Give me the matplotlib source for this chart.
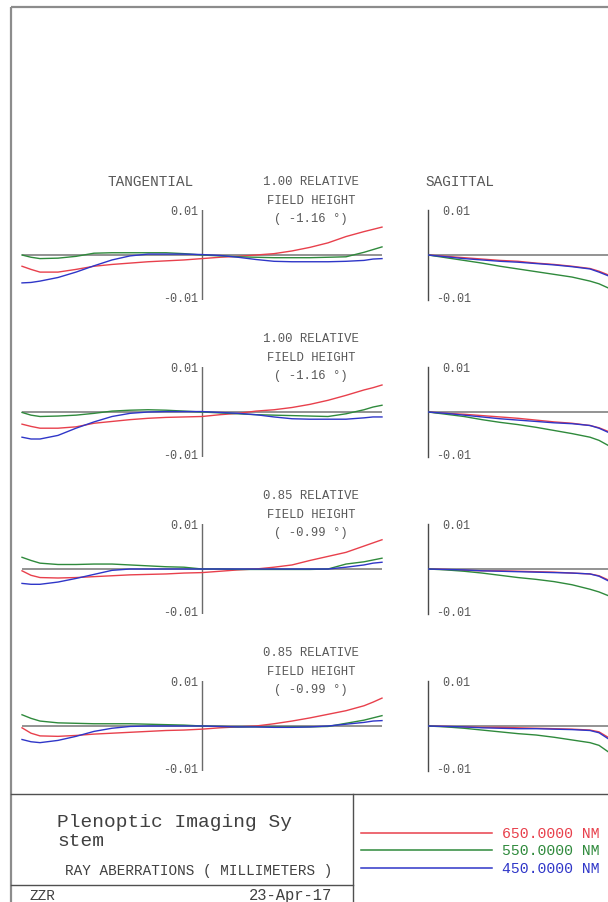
import numpy as np
import matplotlib
matplotlib.use("Agg")
import matplotlib.pyplot as plt

# ---------------- data ----------------
PUPIL_T = [-1.0, -0.95, -0.9, -0.8, -0.7, -0.6, -0.5, -0.4, -0.3, -0.2, -0.1, 0.0,
           0.1, 0.2, 0.3, 0.4, 0.5, 0.6, 0.7, 0.8, 0.9, 0.95, 1.0]
PUPIL_S = [0.0, 0.1, 0.2, 0.3, 0.4, 0.5, 0.6, 0.7, 0.8, 0.9, 0.95, 1.0]

FIELD_REL = ["1.00", "1.00", "0.85", "0.85"]
FIELD_ANG = ["-1.16", "-1.16", "-0.99", "-0.99"]
WAVELENGTHS = ["650.0000 NM", "550.0000 NM", "450.0000 NM"]
WAVE_COLORS = ["#e8404c", "#2f8a3c", "#2f36c8"]

# panel 1 (1.00 field)
tan_red_1 = [-0.0025, -0.0032, -0.0038, -0.0038, -0.0032, -0.0025, -0.0021, -0.0018, -0.0015, -0.0013, -0.0011, -0.0008,
             -0.0005, -0.0003, 0.0000, 0.0003, 0.0009, 0.0017, 0.0027, 0.0041, 0.0052, 0.0057, 0.0062]
tan_grn_1 = [0.0000, -0.0005, -0.0008, -0.0007, -0.0003, 0.0004, 0.0005, 0.0005, 0.0005, 0.0005, 0.0003, 0.0000,
             -0.0002, -0.0004, -0.0005, -0.0006, -0.0006, -0.0006, -0.0005, -0.0004, 0.0006, 0.0012, 0.0018]
tan_blu_1 = [-0.0062, -0.0061, -0.0058, -0.0050, -0.0038, -0.0024, -0.0011, -0.0002, 0.0002, 0.0002, 0.0002, 0.0001,
             -0.0001, -0.0005, -0.0010, -0.0014, -0.0015, -0.0015, -0.0015, -0.0014, -0.0012, -0.0009, -0.0008]
sag_red_1 = [0.0, -0.0003, -0.0006, -0.0009, -0.0012, -0.0014, -0.0018, -0.0021, -0.0025, -0.0030, -0.0036, -0.0044]
sag_grn_1 = [0.0, -0.0006, -0.0012, -0.0018, -0.0025, -0.0031, -0.0037, -0.0043, -0.0049, -0.0058, -0.0064, -0.0073]
sag_blu_1 = [0.0, -0.0004, -0.0008, -0.0011, -0.0014, -0.0016, -0.0019, -0.0022, -0.0026, -0.0031, -0.0038, -0.0046]

# panel 2 (1.00 field)
tan_red_2 = [-0.0027, -0.0032, -0.0036, -0.0036, -0.0033, -0.0025, -0.0021, -0.0017, -0.0014, -0.0012, -0.0011, -0.0010,
             -0.0006, -0.0003, 0.0002, 0.0005, 0.0010, 0.0017, 0.0026, 0.0037, 0.0049, 0.0054, 0.0060]
tan_grn_2 = [-0.0001, -0.0007, -0.0010, -0.0009, -0.0007, -0.0003, 0.0002, 0.0004, 0.0005, 0.0004, 0.0002, 0.0000,
             -0.0002, -0.0004, -0.0006, -0.0007, -0.0008, -0.0009, -0.0010, -0.0004, 0.0005, 0.0011, 0.0015]
tan_blu_2 = [-0.0056, -0.0060, -0.0060, -0.0052, -0.0036, -0.0022, -0.0010, -0.0003, 0.0000, 0.0001, 0.0001, 0.0001,
             -0.0001, -0.0003, -0.0006, -0.0011, -0.0015, -0.0016, -0.0016, -0.0016, -0.0013, -0.0011, -0.0011]
sag_red_2 = [0.0, -0.0003, -0.0005, -0.0008, -0.0011, -0.0014, -0.0018, -0.0022, -0.0025, -0.0030, -0.0035, -0.0043]
sag_grn_2 = [0.0, -0.0005, -0.0010, -0.0017, -0.0023, -0.0028, -0.0034, -0.0041, -0.0048, -0.0056, -0.0063, -0.0074]
sag_blu_2 = [0.0, -0.0003, -0.0007, -0.0011, -0.0015, -0.0018, -0.0021, -0.0024, -0.0026, -0.0030, -0.0036, -0.0045]

# panel 3 (0.85 field)
tan_red_3 = [-0.0004, -0.0014, -0.0019, -0.0020, -0.0019, -0.0017, -0.0015, -0.0013, -0.0012, -0.0011, -0.0009, -0.0008,
             -0.0005, -0.0002, 0.0000, 0.0004, 0.0009, 0.0019, 0.0028, 0.0037, 0.0051, 0.0058, 0.0065]
tan_grn_3 = [0.0026, 0.0019, 0.0013, 0.0010, 0.0010, 0.0011, 0.0011, 0.0009, 0.0007, 0.0005, 0.0004, 0.0000,
             0.0000, -0.0001, -0.0001, -0.0001, -0.0001, -0.0001, 0.0000, 0.0011, 0.0016, 0.0020, 0.0024]
tan_blu_3 = [-0.0032, -0.0034, -0.0034, -0.0029, -0.0021, -0.0012, -0.0003, 0.0000, 0.0000, 0.0000, 0.0000, 0.0000,
             0.0000, 0.0000, 0.0000, 0.0000, 0.0000, 0.0000, 0.0000, 0.0004, 0.0009, 0.0013, 0.0015]
sag_red_3 = [0.0, -0.0001, -0.0003, -0.0004, -0.0004, -0.0005, -0.0006, -0.0007, -0.0009, -0.0011, -0.0015, -0.0024]
sag_grn_3 = [0.0, -0.0002, -0.0005, -0.0009, -0.0014, -0.0019, -0.0023, -0.0028, -0.0035, -0.0045, -0.0051, -0.0059]
sag_blu_3 = [0.0, -0.0001, -0.0002, -0.0004, -0.0005, -0.0006, -0.0007, -0.0008, -0.0009, -0.0011, -0.0016, -0.0026]

# panel 4 (0.85 field)
tan_red_4 = [-0.0004, -0.0016, -0.0022, -0.0023, -0.0021, -0.0018, -0.0016, -0.0014, -0.0012, -0.0010, -0.0009, -0.0007,
             -0.0004, -0.0002, 0.0000, 0.0005, 0.0011, 0.0018, 0.0026, 0.0034, 0.0045, 0.0053, 0.0062]
tan_grn_4 = [0.0025, 0.0017, 0.0011, 0.0007, 0.0006, 0.0005, 0.0005, 0.0005, 0.0004, 0.0003, 0.0002, 0.0000,
             -0.0001, -0.0002, -0.0002, -0.0002, -0.0002, -0.0002, -0.0001, 0.0006, 0.0013, 0.0018, 0.0023]
tan_blu_4 = [-0.0030, -0.0035, -0.0037, -0.0032, -0.0023, -0.0012, -0.0005, -0.0001, 0.0000, 0.0000, 0.0000, 0.0000,
             -0.0001, -0.0002, -0.0002, -0.0003, -0.0003, -0.0002, 0.0000, 0.0004, 0.0008, 0.0011, 0.0012]
sag_red_4 = [0.0, -0.0001, -0.0002, -0.0003, -0.0003, -0.0004, -0.0005, -0.0006, -0.0007, -0.0009, -0.0013, -0.0025]
sag_grn_4 = [0.0, -0.0002, -0.0005, -0.0009, -0.0013, -0.0017, -0.0020, -0.0025, -0.0031, -0.0037, -0.0043, -0.0057]
sag_blu_4 = [0.0, -0.0001, -0.0002, -0.0004, -0.0005, -0.0006, -0.0006, -0.0007, -0.0008, -0.0010, -0.0015, -0.0028]

TAN = [[tan_red_1, tan_grn_1, tan_blu_1], [tan_red_2, tan_grn_2, tan_blu_2],
       [tan_red_3, tan_grn_3, tan_blu_3], [tan_red_4, tan_grn_4, tan_blu_4]]
SAG = [[sag_red_1, sag_grn_1, sag_blu_1], [sag_red_2, sag_grn_2, sag_blu_2],
       [sag_red_3, sag_grn_3, sag_blu_3], [sag_red_4, sag_grn_4, sag_blu_4]]

SCALE_MAX = 0.01

# ---------------- layout ----------------
W, H = 608, 903
FONT = "Liberation Mono"
TXT = "#585858"
fig = plt.figure(figsize=(W / 100, H / 100), dpi=100)
fig.patch.set_facecolor("white")

frame = fig.add_axes([0, 0, 1, 1])
frame.set_xlim(0, W)
frame.set_ylim(H, 0)
frame.axis("off")


def px_axes(x0, y0, x1, y1):
    ax = fig.add_axes([x0 / W, 1 - y1 / H, (x1 - x0) / W, (y1 - y0) / H])
    ax.axis("off")
    ax.patch.set_alpha(0)
    return ax


# outer frame
frame.plot([11, 11], [8, H], color="#8c8c8c", lw=1.6, solid_capstyle="butt")
frame.plot([11, W], [8, 8], color="#8c8c8c", lw=1.6, solid_capstyle="butt")

baselines = [256, 413, 570, 727]
half = 45

for i, yb in enumerate(baselines):
    # tangential
    axt = px_axes(22, yb - half, 382, yb + half)
    axt.set_xlim(-1, 1)
    axt.set_ylim(-SCALE_MAX, SCALE_MAX)
    axt.axhline(0, color="#8a8a8a", lw=1.3, zorder=1)
    axt.axvline(0, color="#6a6a6a", lw=1.0, zorder=1)
    for vals, c in zip(TAN[i], WAVE_COLORS):
        axt.plot(PUPIL_T, vals, color=c, lw=1.0, zorder=2, clip_on=False)

    # sagittal
    axs = px_axes(428, yb - half, 608, yb + half)
    axs.set_xlim(0, 1)
    axs.set_ylim(-SCALE_MAX, SCALE_MAX)
    axs.axhline(0, color="#8a8a8a", lw=1.3, zorder=1)
    axs.axvline(0, color="#4a4a4a", lw=1.0, zorder=1, clip_on=False)
    for vals, c in zip(SAG[i], WAVE_COLORS):
        axs.plot(PUPIL_S, vals, color=c, lw=1.0, zorder=2)

    # scale labels
    frame.text(198, yb - 44, "%.2f" % SCALE_MAX, ha="right", va="center",
               family=FONT, fontsize=8.5, color=TXT)
    frame.text(198, yb + 43, "%.2f" % -SCALE_MAX, ha="right", va="center",
               family=FONT, fontsize=8.5, color=TXT)
    frame.text(442, yb - 44, "%.2f" % SCALE_MAX, ha="left", va="center",
               family=FONT, fontsize=8.5, color=TXT)
    frame.text(436, yb + 43, "%.2f" % -SCALE_MAX, ha="left", va="center",
               family=FONT, fontsize=8.5, color=TXT)

    # field label
    frame.text(311, yb - 74, FIELD_REL[i] + " RELATIVE", ha="center", va="center",
               family=FONT, fontsize=8.8, color=TXT)
    frame.text(311, yb - 55, "FIELD HEIGHT", ha="center", va="center",
               family=FONT, fontsize=8.8, color=TXT)
    frame.text(311, yb - 37, "( " + FIELD_ANG[i] + " \u00b0)", ha="center", va="center",
               family=FONT, fontsize=8.8, color=TXT)

frame.text(151, 182, "TANGENTIAL", ha="center", va="center", family=FONT, fontsize=10.4, color=TXT)
frame.text(460, 182, "SAGITTAL", ha="center", va="center", family=FONT, fontsize=10.4, color=TXT)

# bottom title block
BOX = "#505050"
frame.plot([11, W], [795, 795], color=BOX, lw=1.0)
frame.plot([353, 353], [795, H], color=BOX, lw=1.0)
frame.plot([11, 353], [886, 886], color=BOX, lw=1.0)

frame.text(57, 823, "Plenoptic Imaging Sy", ha="left", va="center", family=FONT, fontsize=14, color="#404040")
frame.text(57, 842, "stem", ha="left", va="center", family=FONT, fontsize=14, color="#404040")
frame.text(199, 871, "RAY ABERRATIONS ( MILLIMETERS )", ha="center", va="center",
           family=FONT, fontsize=10.4, color="#404040")
frame.text(30, 896, "ZZR", ha="left", va="center", family=FONT, fontsize=10.4, color="#404040")
frame.text(332, 896, "23-Apr-17", ha="right", va="center", family=FONT, fontsize=11.2, color="#404040")

# wavelength legend
for k, (lab, c) in enumerate(zip(WAVELENGTHS, WAVE_COLORS)):
    yy = 834 + 17.3 * k
    frame.plot([361, 492], [yy, yy], color=c, lw=1.1)
    frame.text(600, yy, lab, ha="right", va="center", family=FONT, fontsize=10.6, color=c)

fig.savefig("out.png", dpi=100, facecolor="white")
